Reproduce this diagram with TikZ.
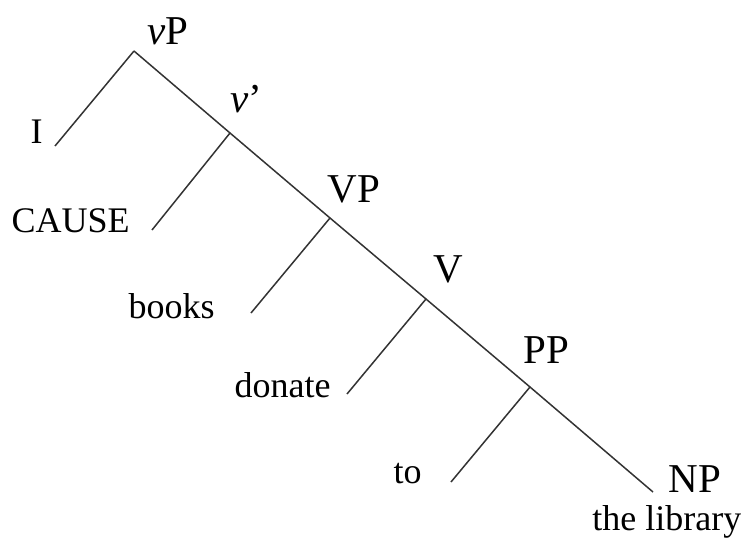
\documentclass[tikz,border=0pt]{standalone}
\usepackage{fontspec}
\setmainfont{Liberation Serif}
\usetikzlibrary{positioning}

\begin{document}
\begin{tikzpicture}[
    x=0.5pt, y=-0.5pt,
    branch/.style={draw=black!80, line width=0.75pt},
    cat/.style={inner sep=0pt, anchor=base west, font=\fontsize{20.5}{24}\selectfont},
    word/.style={inner sep=0pt, anchor=base east, font=\fontsize{18}{20}\selectfont}
]
    \useasboundingbox (0,0) rectangle (741,541);

    % Junctions along the right-branching spine
    \coordinate (vPj) at (134, 51);
    \coordinate (v1j) at (230, 133);
    \coordinate (VPj) at (330, 218);
    \coordinate (Vj)  at (426, 299);
    \coordinate (PPj) at (530, 387);
    \coordinate (NPj) at (653, 492);

    % Free ends of the left branches
    \coordinate (Iend)      at (55, 146);
    \coordinate (CAUSEend)  at (152, 230);
    \coordinate (booksend)  at (251, 313);
    \coordinate (donateend) at (347, 394);
    \coordinate (toend)     at (451, 482);

    % Category labels
    \node[cat] (vP) at (147, 44) {\textit{v}P};
    \node[cat] (v1) at (230, 112) {\textit{v}’};
    \node[cat] (VP) at (327, 202) {VP};
    \node[cat] (V)  at (433, 282) {V};
    \node[cat] (PP) at (523, 363) {PP};
    \node[cat] (NP) at (668, 492) {NP};

    % Words
    \node[word] (I)      at (43, 143) {I};
    \node[word] (CAUSE)  at (130, 232) {CAUSE};
    \node[word] (books)  at (215, 318) {books};
    \node[word] (donate) at (331, 397) {donate};
    \node[word] (to)     at (422, 483) {to};
    \node[word, anchor=base west] (lib) at (592, 530) {the library};

    % Spine
    \draw[branch] (vPj) -- (v1j) -- (VPj) -- (Vj) -- (PPj) -- (NPj);

    % Left branches
    \foreach \a/\b in {vPj/Iend, v1j/CAUSEend, VPj/booksend, Vj/donateend, PPj/toend} {
        \draw[branch] (\a) -- (\b);
    }

\end{tikzpicture}
\end{document}
